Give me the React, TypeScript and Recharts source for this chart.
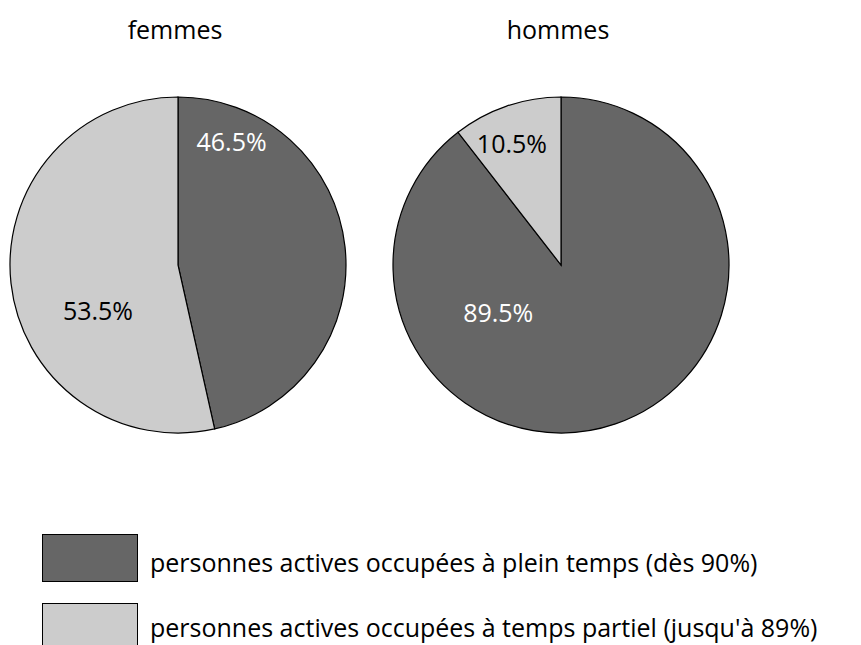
import { PieChart, Pie, Cell } from 'recharts';

const categories = [
    "personnes actives occupées à plein temps (dès 90%)",
    "personnes actives occupées à temps partiel (jusqu'à 89%)"
];
const groups = ['femmes', 'hommes'];
const femmesValues = [46.5, 53.5];
const hommesValues = [89.5, 10.5];

const COLORS = ['#666666', '#cccccc'];
const LABEL_COLORS = ['#ffffff', '#000000'];
// label placement per slice: angle clockwise from top (deg), radius fraction
const femmesLabelPos = [
    { angle: 23.5, r: 0.8 },
    { angle: 240, r: 0.55 }
];
const hommesLabelPos = [
    { angle: 232.7, r: 0.47 },
    { angle: 338, r: 0.78 }
];

const FONT = '"Open Sans", "Noto Sans", sans-serif';
const FS = 25;
const RADIUS = 168;
const ASCENT = 1.069 * FS;

const makeData = (values: number[]) => values.map((v, i) => ({ name: categories[i], value: v }));

const makeLabel = (pos: { angle: number; r: number }[]) => (props: any) => {
    const { cx, cy, index, outerRadius, value } = props;
    const p = pos[index];
    const rad = (p.angle * Math.PI) / 180;
    const x = cx + Math.sin(rad) * outerRadius * p.r;
    const y = cy - Math.cos(rad) * outerRadius * p.r;
    return (
        <text
            x={x}
            y={y + FS * 0.36}
            fill={LABEL_COLORS[index]}
            textAnchor="middle"
            fontSize={FS}
            fontFamily={FONT}
        >
            {value.toFixed(1)}%
        </text>
    );
};

export default function App() {
    const pies = [
        { data: makeData(femmesValues), cx: 178, label: makeLabel(femmesLabelPos) },
        { data: makeData(hommesValues), cx: 561, label: makeLabel(hommesLabelPos) }
    ];
    return (
        <div style={{ position: 'absolute', left: 0, top: 0, width: 861, height: 645, background: '#fff', overflow: 'hidden', fontFamily: FONT }}>
            <PieChart width={861} height={645} margin={{ top: 0, right: 0, bottom: 0, left: 0 }}>
                {pies.map((p, k) => (
                    <Pie
                        key={k}
                        data={p.data}
                        dataKey="value"
                        cx={p.cx}
                        cy={265}
                        outerRadius={RADIUS}
                        startAngle={90}
                        endAngle={-270}
                        stroke="#000"
                        strokeWidth={1.2}
                        labelLine={false}
                        label={p.label}
                        isAnimationActive={false}
                    >
                        {p.data.map((_, i) => (
                            <Cell key={`cell-${i}`} fill={COLORS[i]} />
                        ))}
                    </Pie>
                ))}
            </PieChart>
            {groups.map((g, k) => (
                <div
                    key={g}
                    style={{
                        position: 'absolute',
                        left: pies[k].cx - 3 - 150,
                        width: 300,
                        top: 39 - ASCENT,
                        textAlign: 'center',
                        fontSize: FS,
                        color: '#000'
                    }}
                >
                    {g}
                </div>
            ))}
            {categories.map((c, i) => (
                <div key={c}>
                    <div
                        style={{
                            position: 'absolute',
                            left: 42,
                            top: 534 + i * 69,
                            width: 94,
                            height: 46,
                            background: COLORS[i],
                            border: '1px solid #000'
                        }}
                    />
                    <span
                        style={{
                            position: 'absolute',
                            left: 150,
                            top: 572 + i * 65 - ASCENT,
                            fontSize: FS,
                            color: '#000',
                            whiteSpace: 'nowrap'
                        }}
                    >
                        {c}
                    </span>
                </div>
            ))}
        </div>
    );
}
